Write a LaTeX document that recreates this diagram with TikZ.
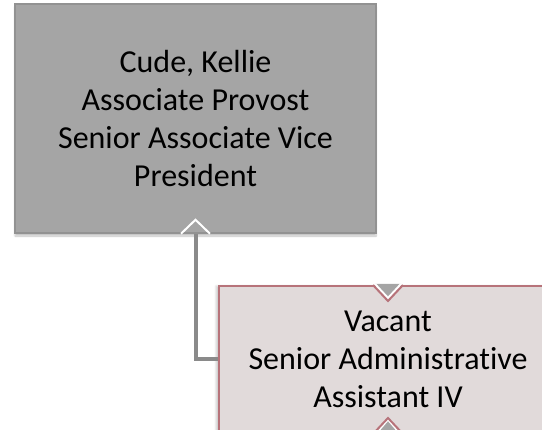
\documentclass[tikz,border=0pt]{standalone}
\usepackage{fontspec}
\setmainfont[Ligatures=NoCommon]{Carlito}
\usetikzlibrary{shadows.blur}

\definecolor{bossgray}{HTML}{A5A5A5}
\definecolor{bossedge}{HTML}{929292}
\definecolor{staffpink}{HTML}{E1DADA}
\definecolor{staffedge}{HTML}{B7737A}
\definecolor{linkgray}{HTML}{8A8A8A}

\tikzset{
  bossbox/.style={draw=bossedge, fill=bossgray, line width=1.5pt, align=center,
    minimum width=361pt, minimum height=229pt, inner sep=0pt,
    blur shadow={shadow xshift=0pt, shadow yshift=-3pt, shadow blur steps=6, shadow opacity=25},
    font=\fontsize{32}{38.3}\selectfont},
  staffbox/.style={draw=staffedge, fill=staffpink, line width=2pt, align=center,
    minimum width=338pt, minimum height=147pt, inner sep=0pt,
    blur shadow={shadow xshift=-3pt, shadow yshift=0pt, shadow blur steps=6, shadow opacity=20},
    font=\fontsize{32}{38.3}\selectfont},
  link/.style={draw=linkgray, line width=4pt},
}

\begin{document}
\begin{tikzpicture}[x=1pt, y=1pt]
    \useasboundingbox (0,0) rectangle (542,-430);

    \node[bossbox] (kellie) at (195.5,-118.5) {Cude, Kellie\\Associate Provost\\Senior Associate Vice\\President};
    \node[staffbox] (vacant) at (388,-359.5) {Vacant\\Senior Administrative\\Assistant IV};

    \draw[link] (kellie.south) |- (vacant.west);

    % notches
    \draw[white, line width=2pt] ([xshift=-14.5pt]kellie.south) -- ([yshift=14pt]kellie.south) -- ([xshift=14.5pt]kellie.south);
    \filldraw[fill=bossgray, draw=white, line width=2pt] ([xshift=-13pt,yshift=1pt]vacant.north) -- ([yshift=-13pt]vacant.north) -- ([xshift=13pt,yshift=1pt]vacant.north);
    \draw[staffedge, line width=2pt] ([xshift=-15pt]vacant.north) -- ([yshift=-16pt]vacant.north) -- ([xshift=15pt]vacant.north);
    \filldraw[fill=bossgray, draw=white, line width=1.5pt] ([xshift=-13pt,yshift=-1pt]vacant.south) -- ([yshift=14pt]vacant.south) -- ([xshift=13pt,yshift=-1pt]vacant.south);
    \draw[staffedge, line width=2pt] ([xshift=-15pt]vacant.south) -- ([yshift=16pt]vacant.south) -- ([xshift=15pt]vacant.south);
\end{tikzpicture}
\end{document}
